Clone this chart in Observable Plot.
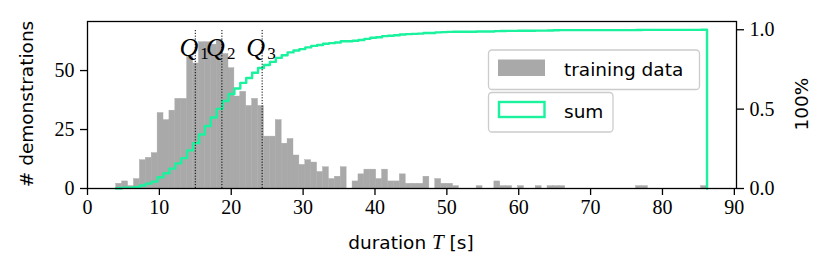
<!DOCTYPE html>
<html><head><meta charset="utf-8">
<script src="https://cdn.jsdelivr.net/npm/d3@7"></script>
<script src="https://cdn.jsdelivr.net/npm/@observablehq/plot@0.6"></script>
<style>body{margin:0;background:#fff}</style>
</head><body><div id="chart"></div>
<script>
// histogram counts (100 bins between binRange)
const counts = [2,3,1,4,12,13,15,32,29,33,
  38,38,56,53,62,62,61,63,57,51,
  39,41,35,38,35,22,22,29,19,21,
  14,10,12,11,7,9,4,5,9,0,
  3,6,8,8,4,8,3,3,6,2,
  2,2,5,0,4,2,2,1,0,0,
  0,1,0,0,3,1,1,0,1,0,
  0,1,0,1,1,1,0,0,0,0,
  0,0,0,0,0,0,0,0,1,1,
  0,0,0,0,0,0,0,0,0,1];
const binRange = [4.0, 86.2];
const quartiles = [15.0, 18.7, 24.3];
const quartileNames = ["1", "2", "3"];
const xTicks = [0,10,20,30,40,50,60,70,80,90];
const yTicks = [0,25,50];
const fracTicks = [0, 0.5, 1.0];
const seriesNames = ["training data", "sum"];

const W = 830, H = 276, mL = 87, mR = 94, mT = 21, mB = 88;
const yMax = 70.8, fracMax = 1.052, k = yMax / fracMax;
const GREEN = "#1af29e", GREY = "#a9a9a9";
const n = counts.length, bw = (binRange[1] - binRange[0]) / n;
const bins = counts.map((c, i) => ({x1: binRange[0] + i * bw, x2: binRange[0] + (i + 1) * bw, count: c}));
const total = d3.sum(counts);
let acc = 0;
const step = [{x: binRange[0], y: 0}];
bins.forEach(b => { acc += b.count; step.push({x: b.x1, y: acc / total * k}); });
step.push({x: binRange[1], y: acc / total * k});
step.push({x: binRange[1], y: 0});

const serif = "'Liberation Serif', serif";
const sans = "'DejaVu Sans', sans-serif";

const svg = Plot.plot({
  width: W, height: H, marginLeft: mL, marginRight: mR, marginTop: mT, marginBottom: mB,
  x: {domain: [0, 90.3]},
  y: {domain: [0, yMax]},
  style: {fontFamily: serif, fontSize: "20px", color: "black", background: "white", overflow: "visible"},
  marks: [
    Plot.rectY(bins, {x1: "x1", x2: "x2", y: "count", fill: GREY, stroke: GREY, strokeWidth: 0.4}),
    Plot.line(step, {x: "x", y: "y", curve: "step-after", stroke: GREEN, strokeWidth: 2.4}),
    Plot.ruleX(quartiles, {y1: 0, y2: yMax * 0.95, stroke: "black", strokeDasharray: "1.2,1.6", strokeWidth: 1}),
    Plot.text(quartiles, {x: d => d, text: () => "Q", frameAnchor: "top", dy: 16, dx: 3, textAnchor: "end", fontStyle: "italic", fontSize: 26, fontFamily: serif}),
    Plot.text(quartiles, {x: d => d, text: (d, i) => quartileNames[i], frameAnchor: "top", dy: 25, dx: 5, textAnchor: "start", fontSize: 17, fontFamily: serif}),
    Plot.frame({stroke: "black", strokeWidth: 1.3}),
    Plot.axisX({ticks: xTicks, tickSize: 7, tickPadding: 4, label: null, strokeWidth: 1.3, fontSize: 20, fontFamily: serif, tickFormat: d => String(d)}),
    Plot.axisY({ticks: yTicks, tickSize: 7, tickPadding: 6, label: null, strokeWidth: 1.3, fontSize: 20, fontFamily: serif}),
    Plot.axisY({anchor: "right", ticks: fracTicks.map(f => f * k), tickFormat: d => (d / k).toFixed(1), tickSize: 7, tickPadding: 6, label: null, strokeWidth: 1.3, fontSize: 20, fontFamily: serif})
  ]
});
document.getElementById("chart").appendChild(svg);

const s = d3.select(svg);
s.selectAll("g[aria-label$='tick label'] text").style("font-family", serif).style("font-size", "20px");
// axis labels
s.append("text").attr("transform", "translate(26,104) rotate(-90)")
  .attr("text-anchor", "middle").attr("dominant-baseline", "central")
  .style("font-family", sans).style("font-size", "18.5px").text("# demonstrations");
s.append("text").attr("transform", "translate(801,104) rotate(-90)")
  .attr("text-anchor", "middle").attr("dominant-baseline", "central")
  .style("font-family", sans).style("font-size", "18.5px").text("100%");
const xl = s.append("text").attr("x", 411).attr("y", 249).attr("text-anchor", "middle")
  .style("font-family", sans).style("font-size", "18.5px");
xl.append("tspan").text("duration ");
xl.append("tspan").style("font-family", serif).style("font-style", "italic").style("font-size", "21px").text("T");
xl.append("tspan").text(" [s]");

// legend
const lg = s.append("g").style("font-family", sans).style("font-size", "18.5px").attr("text-anchor", "start");
lg.append("rect").attr("x", 488.5).attr("y", 50).attr("width", 211).attr("height", 39.5).attr("rx", 3.5)
  .attr("fill", "white").attr("fill-opacity", 0.8).attr("stroke", "#cccccc").attr("stroke-width", 1.3);
lg.append("rect").attr("x", 498).attr("y", 59.5).attr("width", 47).attr("height", 16.5).attr("fill", GREY);
lg.append("text").attr("x", 564).attr("y", 76).attr("text-anchor", "start").text(seriesNames[0]);
lg.append("rect").attr("x", 488.5).attr("y", 92.5).attr("width", 124.5).attr("height", 39.5).attr("rx", 3.5)
  .attr("fill", "white").attr("fill-opacity", 0.8).attr("stroke", "#cccccc").attr("stroke-width", 1.3);
lg.append("rect").attr("x", 499).attr("y", 102).attr("width", 45.5).attr("height", 15).attr("fill", "none")
  .attr("stroke", GREEN).attr("stroke-width", 2.4);
lg.append("text").attr("x", 564).attr("y", 118).attr("text-anchor", "start").text(seriesNames[1]);
</script></body></html>
